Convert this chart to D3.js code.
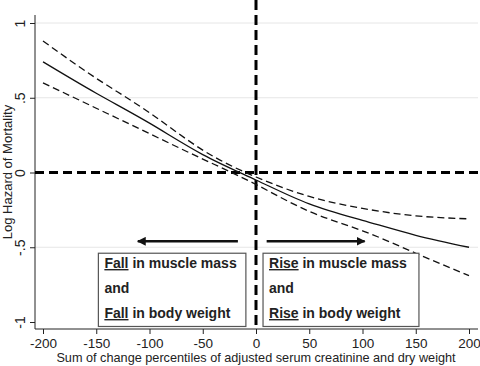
<!DOCTYPE html>
<html>
<head>
<meta charset="utf-8">
<script src="https://cdn.jsdelivr.net/npm/d3@7"></script>
<style>
  body { margin: 0; background: #fff; }
  svg { display: block; font-family: "Liberation Sans", Arial, sans-serif; }
</style>
</head>
<body>
<div id="chart"></div>
<script>
// data
var xVals = [-200, -150, -100, -50, 0, 50, 100, 150, 200];
var fitVals = [0.74, 0.53, 0.33, 0.12, -0.05, -0.21, -0.32, -0.42, -0.50];
var upperVals = [0.88, 0.63, 0.40, 0.15, -0.03, -0.16, -0.24, -0.29, -0.31];
var lowerVals = [0.60, 0.43, 0.26, 0.09, -0.08, -0.26, -0.39, -0.54, -0.69];
var xTicks = [-200, -150, -100, -50, 0, 50, 100, 150, 200];
var yTicks = [1, 0.5, 0, -0.5, -1];
var yTickLabels = ["1", ".5", "0", "-.5", "-1"];
var gridVals = [1, 0.5, -0.5];
var boxes = [
  { x0: -148, x1: -9.5, word: "Fall", arrowFrom: -17, arrowTo: -111 },
  { x0: 6.6, x1: 153, word: "Rise", arrowFrom: 10, arrowTo: 102 }
];

var W = 480, H = 366;
var plot = { left: 35, right: 478, top: 15, bottom: 329 };

var x = d3.scaleLinear().domain([-200, 200]).range([43, 469]);
var y = d3.scaleLinear().domain([-1, 1]).range([322, 23]);

var svg = d3.select('#chart').append('svg')
    .attr('width', W).attr('height', H);

var defs = svg.append('defs');
defs.append('marker')
    .attr('id', 'head')
    .attr('viewBox', '0 0 10 10')
    .attr('refX', 9).attr('refY', 5)
    .attr('markerWidth', 3.4).attr('markerHeight', 3.4)
    .attr('orient', 'auto')
    .append('path').attr('d', 'M0,0 L10,5 L0,10 z').attr('fill', '#111');

// grid lines
svg.append('g').selectAll('line')
    .data(gridVals)
    .enter().append('line')
    .attr('x1', plot.left).attr('x2', plot.right)
    .attr('y1', d => y(d)).attr('y2', d => y(d))
    .attr('stroke', '#e6e6e6').attr('stroke-width', 1);

// y axis
var yAxis = svg.append('g')
    .attr('transform', `translate(${plot.left},0)`)
    .call(d3.axisLeft(y).tickValues(yTicks).tickSize(5).tickSizeOuter(0).tickFormat((d, i) => yTickLabels[i]));
yAxis.select('.domain').attr('d', `M0,${plot.top}V${plot.bottom}`).attr('stroke', '#222');
yAxis.selectAll('.tick line').attr('stroke', '#222');
yAxis.selectAll('.tick text')
    .attr('x', null).attr('dy', null)
    .attr('transform', 'translate(-10,0) rotate(-90)')
    .attr('text-anchor', 'middle')
    .attr('font-size', 14).attr('fill', '#222');

// x axis
var xAxis = svg.append('g')
    .attr('transform', `translate(0,${plot.bottom})`)
    .call(d3.axisBottom(x).tickValues(xTicks).tickSize(5).tickSizeOuter(0).tickFormat(d => String(d)));
xAxis.select('.domain').attr('d', `M${plot.left},0H${plot.right}`).attr('stroke', '#222');
xAxis.selectAll('.tick line').attr('stroke', '#222');
xAxis.selectAll('.tick text')
    .attr('y', 19).attr('dy', null)
    .attr('font-size', 13.5).attr('fill', '#222');

// axis titles
svg.append('text')
    .attr('x', 256).attr('y', 362)
    .attr('text-anchor', 'middle').attr('font-size', 12.7).attr('fill', '#222')
    .text('Sum of change percentiles of adjusted serum creatinine and dry weight');
svg.append('text')
    .attr('transform', `translate(12,${(plot.top + plot.bottom) / 2}) rotate(-90)`)
    .attr('text-anchor', 'middle').attr('font-size', 13).attr('fill', '#222')
    .text('Log Hazard of Mortality');

// reference lines
svg.append('line')
    .attr('x1', plot.left).attr('x2', plot.right)
    .attr('y1', y(0)).attr('y2', y(0))
    .attr('stroke', '#000').attr('stroke-width', 3).attr('stroke-dasharray', '9,5');
svg.append('line')
    .attr('x1', x(0)).attr('x2', x(0))
    .attr('y1', 0).attr('y2', plot.bottom)
    .attr('stroke', '#000').attr('stroke-width', 3).attr('stroke-dasharray', '10,5');

// fitted line and CI
var line = d3.line()
    .x(d => x(d[0])).y(d => y(d[1]))
    .curve(d3.curveNatural);
function series(vals) { return xVals.map((v, i) => [v, vals[i]]); }

svg.append('path').datum(series(upperVals))
    .attr('d', line).attr('fill', 'none')
    .attr('stroke', '#111').attr('stroke-width', 1.3).attr('stroke-dasharray', '7,4');
svg.append('path').datum(series(lowerVals))
    .attr('d', line).attr('fill', 'none')
    .attr('stroke', '#111').attr('stroke-width', 1.3).attr('stroke-dasharray', '7,4');
svg.append('path').datum(series(fitVals))
    .attr('d', line).attr('fill', 'none')
    .attr('stroke', '#111').attr('stroke-width', 1.3);

// arrows
svg.append('g').selectAll('line')
    .data(boxes)
    .enter().append('line')
    .attr('x1', d => x(d.arrowFrom)).attr('x2', d => x(d.arrowTo))
    .attr('y1', y(-0.46)).attr('y2', y(-0.46))
    .attr('stroke', '#111').attr('stroke-width', 2.6)
    .attr('marker-end', 'url(#head)');

// annotation boxes
var bx = svg.append('g').selectAll('g')
    .data(boxes)
    .enter().append('g');
bx.append('rect')
    .attr('x', d => x(d.x0)).attr('width', d => x(d.x1) - x(d.x0))
    .attr('y', y(-0.54)).attr('height', y(-1.03) - y(-0.54))
    .attr('fill', '#fff').attr('stroke', '#555').attr('stroke-width', 1.2);

var lines = [[true, ' in muscle mass'], [false, 'and'], [true, ' in body weight']];
lines.forEach(function (ln, k) {
    var t = bx.append('text')
        .attr('x', d => x(d.x0) + 6)
        .attr('y', 268 + k * 25)
        .attr('font-size', 14).attr('font-weight', 'bold').attr('fill', '#222');
    if (ln[0]) {
        t.append('tspan').attr('text-decoration', 'underline').text(d => d.word);
        t.append('tspan').text(ln[1]);
    } else {
        t.text(ln[1]);
    }
});
</script>
</body>
</html>
